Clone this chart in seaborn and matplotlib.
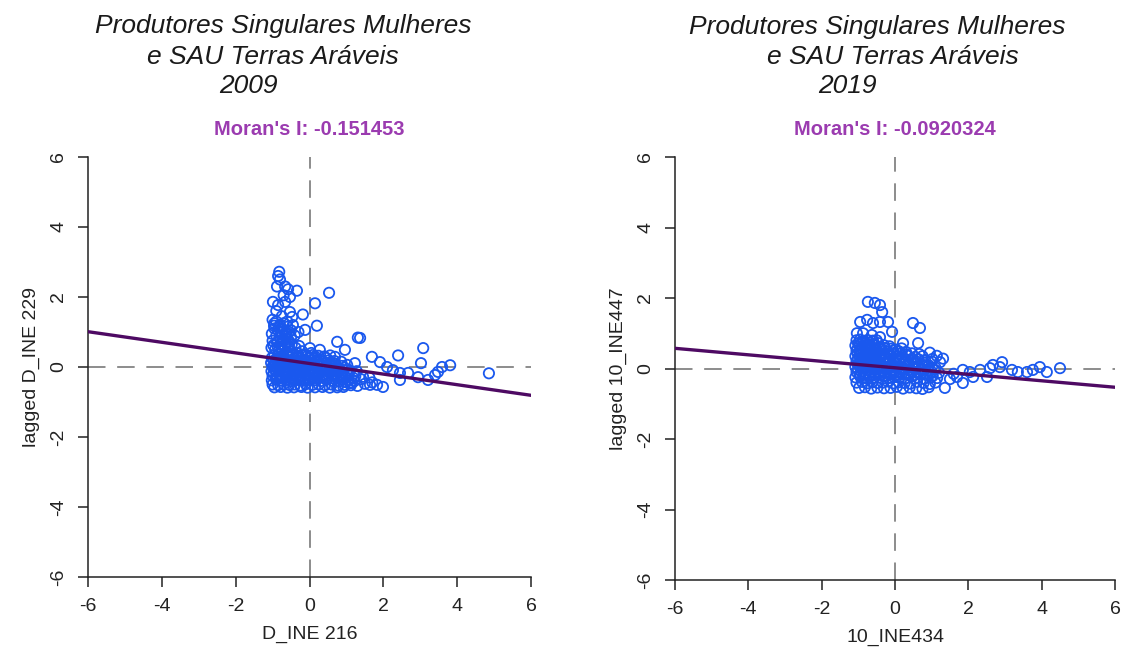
import matplotlib
matplotlib.use("Agg")
import matplotlib.pyplot as plt
import seaborn as sns
import numpy as np
import pandas as pd

# ---------------- data ----------------
# Panel 2009
x_2009 = [
    -0.82, -0.85, -0.80, -0.88, -0.66, -0.58, -0.34, 0.53,
    -0.99, -0.85, -0.66, -0.53, 0.15, -0.53, -0.47, -0.18, 0.20, -0.12, 0.75, 1.31,
    -0.70, -0.90, -0.75, -0.60, -0.45, -0.30, -0.95,
    -1.00, -0.90, -0.80, -0.70, -0.60, -0.95, -0.85, -0.75, -0.65, -0.55,
    -1.02, -0.90, -0.80, -0.70, -0.60, -0.50, -0.40,
    -1.00, -0.88, -0.78, -0.68, -0.58, -0.48, -0.38, -0.28,
    -1.03, -0.93, -0.83, -0.73, -0.63, -0.53, -0.43, -0.33, -0.20, -0.10, 0.05, 0.15,
    -1.02, -0.90, -0.78, -0.66, -0.52, -0.40, -0.25, -0.12, 0.00, 0.12, 0.30, 0.45,
    -1.04, -0.93, -0.80, -0.70, -0.57, -0.45, -0.33, -0.20, -0.05, 0.08, 0.22, 0.38, 0.55, 0.70,
    -1.00, -0.88, -0.75, -0.62, -0.50, -0.38, -0.27, -0.15, 0.02, 0.18, 0.33, 0.48, 0.62, 0.80, 0.95,
    -1.03, -0.92, -0.80, -0.68, -0.55, -0.42, -0.30, -0.17, -0.04, 0.10, 0.25, 0.40, 0.58, 0.75, 0.90, 1.05,
    -1.00, -0.87, -0.74, -0.60, -0.48, -0.35, -0.22, -0.10, 0.05, 0.20, 0.36, 0.52, 0.68, 0.85, 1.00, 1.20, 1.40,
    -1.02, -0.90, -0.77, -0.64, -0.50, -0.38, -0.25, -0.12, 0.00, 0.15, 0.30, 0.45, 0.62, 0.80, 0.98, 1.15, 1.50,
    -1.00, -0.85, -0.70, -0.55, -0.40, -0.25, -0.10, 0.08, 0.25, 0.42, 0.60, 0.78, 0.95, 1.12, 1.30,
    -0.95, -0.78, -0.60, -0.42, -0.22, -0.05, 0.15, 0.35, 0.55, 0.75, 0.92,
    3.08, 2.40, 3.02, 3.81, 3.59, 3.48, 3.40, 4.86,
    1.69, 1.91, 2.10, 2.26, 2.45, 2.67, 2.94, 3.21, 2.45, 1.99, 1.83, 1.37,
    1.23, 1.10, 1.64, 0.69, 0.96, 0.28, 0.01,
    # extra fill of the dense core
    -0.96, -0.84, -0.72, -0.62, -0.50, -0.86, -0.74, -0.64, -0.54, -0.98, -0.86, -0.76,
    -0.95, -0.82, -0.70, -0.58, -0.46, -0.34, -0.20, -0.06, 0.08, 0.24, 0.40, 0.56,
    -0.97, -0.85, -0.72, -0.60, -0.47, -0.34, -0.21, -0.08, 0.06, 0.20, 0.36, 0.52, 0.68, 0.86,
    -0.96, -0.83, -0.70, -0.57, -0.44, -0.32, -0.19, -0.05, 0.08, 0.22, 0.38, 0.54, 0.70, 0.88, 1.02,
    -0.95, -0.82, -0.68, -0.55, -0.42, -0.29, -0.16, -0.02, 0.12, 0.28, 0.44, 0.60, 0.77, 0.93, 1.10, 1.28,
    -0.97, -0.83, -0.70, -0.56, -0.43, -0.30, -0.17, -0.04, 0.10, 0.24, 0.40, 0.55, 0.72, 0.89, 1.06, 1.24, 1.45, 1.62,
    -0.92, -0.77, -0.62, -0.47, -0.32, -0.17, -0.02, 0.16, 0.33, 0.50, 0.68, 0.86, 1.04, 1.22, 1.70,
]
y_2009 = [
    2.72, 2.60, 2.50, 2.30, 2.30, 2.22, 2.18, 2.12,
    1.86, 1.77, 1.86, 2.00, 1.82, 1.57, 1.43, 1.50, 1.18, 1.06, 0.72, 0.84,
    2.05, 1.60, 1.45, 1.30, 1.20, 1.00, 1.25,
    1.35, 1.30, 1.20, 1.25, 1.15, 1.10, 1.05, 1.00, 0.95, 1.00,
    0.95, 0.90, 0.85, 0.80, 0.80, 0.85, 0.90,
    0.75, 0.70, 0.65, 0.62, 0.60, 0.65, 0.55, 0.60,
    0.55, 0.50, 0.48, 0.45, 0.42, 0.45, 0.38, 0.40, 0.45, 0.35, 0.40, 0.30,
    0.26, 0.22, 0.27, 0.24, 0.28, 0.23, 0.25, 0.21, 0.27, 0.24, 0.22, 0.26,
    0.12, 0.14, 0.10, 0.13, 0.11, 0.14, 0.12, 0.10, 0.13, 0.11, 0.12, 0.10, 0.13, 0.09,
    0.01, -0.02, 0.02, 0.00, 0.03, -0.01, 0.02, 0.00, -0.02, 0.01, 0.03, -0.01, 0.00, -0.03, -0.02,
    -0.12, -0.10, -0.13, -0.11, -0.14, -0.12, -0.10, -0.13, -0.11, -0.12, -0.14, -0.10, -0.13, -0.12, -0.15, -0.17,
    -0.25, -0.27, -0.24, -0.26, -0.23, -0.25, -0.28, -0.24, -0.26, -0.25, -0.27, -0.23, -0.26, -0.28, -0.30, -0.32, -0.35,
    -0.38, -0.36, -0.39, -0.37, -0.40, -0.38, -0.36, -0.39, -0.37, -0.38, -0.40, -0.36, -0.39, -0.41, -0.43, -0.45, -0.48,
    -0.50, -0.52, -0.49, -0.51, -0.50, -0.53, -0.49, -0.51, -0.50, -0.52, -0.50, -0.53, -0.51, -0.52, -0.54,
    -0.58, -0.57, -0.59, -0.58, -0.57, -0.59, -0.58, -0.57, -0.59, -0.58, -0.57,
    0.54, 0.33, 0.11, 0.05, 0.00, -0.14, -0.23, -0.18,
    0.29, 0.14, 0.00, -0.09, -0.17, -0.17, -0.29, -0.37, -0.37, -0.57, -0.51, 0.83,
    0.11, -0.46, -0.51, 0.29, 0.49, 0.49, 0.54,
    # extra fill of the dense core
    1.18, 1.12, 1.08, 0.98, 1.05, 0.72, 0.75, 0.70, 0.72, 0.62, 0.57, 0.52,
    0.33, 0.35, 0.31, 0.34, 0.32, 0.30, 0.33, 0.31, 0.34, 0.32, 0.30, 0.33,
    0.18, 0.20, 0.17, 0.19, 0.18, 0.16, 0.19, 0.17, 0.20, 0.18, 0.16, 0.19, 0.17, 0.15,
    0.06, 0.08, 0.05, 0.07, 0.06, 0.04, 0.07, 0.05, 0.08, 0.06, 0.04, 0.07, 0.05, 0.03, 0.06,
    -0.06, -0.04, -0.07, -0.05, -0.06, -0.08, -0.05, -0.07, -0.04, -0.06, -0.08, -0.05, -0.07, -0.09, -0.10, -0.12,
    -0.18, -0.20, -0.17, -0.19, -0.18, -0.21, -0.18, -0.20, -0.17, -0.19, -0.21, -0.18, -0.20, -0.22, -0.24, -0.26, -0.28, -0.30,
    -0.31, -0.33, -0.30, -0.32, -0.31, -0.34, -0.31, -0.33, -0.30, -0.32, -0.34, -0.36, -0.38, -0.40, -0.44,
]

# Panel 2019
x_2019 = [
    -0.74, -0.55, -0.41, -0.35, -0.95, -0.76, -0.60, -0.41, -0.19, 0.49, 0.68, -0.08,
    -1.04, -0.87, -0.63, -0.41, 0.22, 0.63, 0.95, 1.14, 1.31, 1.23,
    1.36, 1.85, 1.69, 1.85, 2.04, 2.32, 2.59, 2.86, 2.92, 2.67, 3.19, 3.35, 3.60, 3.76,
    3.95, 4.14, 4.50, 2.13, 2.51, 1.50, 1.60,
    -1.05, -0.95, -0.85, -0.75, -0.60, -0.50,
    -1.08, -0.98, -0.88, -0.78, -0.68, -0.55, -0.42, -0.30, -0.15,
    -1.05, -0.95, -0.85, -0.72, -0.60, -0.48, -0.35, -0.20, -0.05, 0.10, 0.30,
    -1.08, -0.97, -0.85, -0.73, -0.62, -0.50, -0.38, -0.25, -0.10, 0.05, 0.20, 0.35, 0.55, 0.75,
    -1.05, -0.94, -0.82, -0.70, -0.58, -0.45, -0.32, -0.18, -0.05, 0.10, 0.25, 0.42, 0.60, 0.80, 1.00,
    -1.08, -0.96, -0.84, -0.72, -0.60, -0.48, -0.35, -0.22, -0.08, 0.07, 0.22, 0.38, 0.55, 0.72, 0.90, 1.10,
    -1.05, -0.93, -0.80, -0.68, -0.55, -0.42, -0.30, -0.15, 0.00, 0.15, 0.30, 0.48, 0.65, 0.82, 1.00, 1.20,
    -1.08, -0.95, -0.83, -0.70, -0.57, -0.44, -0.30, -0.17, -0.03, 0.12, 0.28, 0.45, 0.62, 0.80, 0.98, 1.15,
    -1.05, -0.90, -0.76, -0.62, -0.48, -0.34, -0.20, -0.05, 0.10, 0.26, 0.42, 0.60, 0.78, 0.95, 1.10,
    -0.98, -0.82, -0.65, -0.48, -0.30, -0.12, 0.05, 0.22, 0.40, 0.58, 0.75, 0.92,
    # extra fill of the dense core
    -1.00, -0.90, -0.80, -0.70, -0.58, -0.46,
    -1.02, -0.91, -0.80, -0.68, -0.55, -0.42, -0.28, -0.12, 0.02, 0.18,
    -1.02, -0.90, -0.78, -0.66, -0.54, -0.42, -0.30, -0.16, -0.02, 0.14, 0.30, 0.46, 0.66,
    -1.01, -0.89, -0.77, -0.65, -0.53, -0.40, -0.27, -0.13, 0.01, 0.16, 0.31, 0.47, 0.64, 0.82, 1.02,
    -1.02, -0.90, -0.78, -0.65, -0.52, -0.39, -0.25, -0.10, 0.06, 0.22, 0.38, 0.56, 0.74, 0.92,
    -1.01, -0.88, -0.75, -0.62, -0.49, -0.36, -0.22, -0.08, 0.06, 0.22, 0.38, 0.55, 0.72, 0.90, 1.08,
    -0.97, -0.83, -0.69, -0.55, -0.41, -0.27, -0.12, 0.03, 0.18, 0.34, 0.51, 0.68, 0.86, 1.03,
]
y_2019 = [
    1.89, 1.86, 1.80, 1.60, 1.32, 1.38, 1.29, 1.32, 1.32, 1.29, 1.15, 1.04,
    1.00, 1.00, 0.95, 0.89, 0.72, 0.72, 0.45, 0.36, 0.28, 0.18,
    -0.55, -0.41, -0.24, -0.04, -0.10, -0.04, 0.01, 0.04, 0.18, 0.10, -0.04, -0.10, -0.10, -0.04,
    0.04, -0.10, 0.01, -0.24, -0.24, -0.30, -0.15,
    0.80, 0.82, 0.78, 0.81, 0.79, 0.80,
    0.65, 0.67, 0.63, 0.66, 0.64, 0.65, 0.62, 0.66, 0.63,
    0.50, 0.52, 0.48, 0.51, 0.49, 0.50, 0.53, 0.48, 0.51, 0.49, 0.47,
    0.35, 0.37, 0.33, 0.36, 0.34, 0.35, 0.38, 0.33, 0.36, 0.34, 0.32, 0.36, 0.33, 0.35,
    0.20, 0.22, 0.18, 0.21, 0.19, 0.20, 0.23, 0.18, 0.21, 0.19, 0.17, 0.22, 0.19, 0.16, 0.20,
    0.05, 0.07, 0.03, 0.06, 0.04, 0.05, 0.08, 0.03, 0.06, 0.04, 0.02, 0.07, 0.04, 0.01, 0.05, 0.03,
    -0.10, -0.08, -0.12, -0.09, -0.11, -0.10, -0.07, -0.12, -0.09, -0.11, -0.13, -0.08, -0.11, -0.14, -0.10, -0.12,
    -0.25, -0.23, -0.27, -0.24, -0.26, -0.25, -0.22, -0.27, -0.24, -0.26, -0.28, -0.23, -0.26, -0.29, -0.25, -0.27,
    -0.40, -0.38, -0.42, -0.39, -0.41, -0.40, -0.37, -0.42, -0.39, -0.41, -0.43, -0.38, -0.41, -0.44, -0.40,
    -0.55, -0.53, -0.57, -0.54, -0.56, -0.55, -0.52, -0.57, -0.54, -0.56, -0.58, -0.53,
    # extra fill of the dense core
    0.72, 0.74, 0.71, 0.73, 0.70, 0.72,
    0.57, 0.59, 0.56, 0.58, 0.57, 0.55, 0.58, 0.56, 0.54, 0.57,
    0.42, 0.44, 0.41, 0.43, 0.42, 0.40, 0.43, 0.41, 0.44, 0.42, 0.40, 0.43, 0.41,
    0.27, 0.29, 0.26, 0.28, 0.27, 0.25, 0.28, 0.26, 0.29, 0.27, 0.25, 0.28, 0.26, 0.24, 0.27,
    0.12, 0.14, 0.11, 0.13, 0.12, 0.10, 0.13, 0.11, 0.14, 0.12, 0.10, 0.13, 0.11, 0.09,
    -0.03, -0.01, -0.04, -0.02, -0.03, -0.05, -0.02, -0.04, -0.01, -0.03, -0.05, -0.02, -0.04, -0.06, -0.03,
    -0.18, -0.16, -0.19, -0.17, -0.18, -0.20, -0.17, -0.19, -0.16, -0.18, -0.20, -0.17, -0.19, -0.21,
]

# regression (Moran) lines: slope and intercept
slope_2009, intercept_2009 = -0.151453, 0.10
slope_2019, intercept_2019 = -0.0920324, 0.02

moran_labels = ["Moran's I: -0.151453", "Moran's I: -0.0920324"]
x_labels = ["D_INE 216", "10_INE434"]
y_labels = ["lagged D_INE 229", "lagged 10_INE447"]
tick_values = [-6, -4, -2, 0, 2, 4, 6]
title_lines = [
    ["Produtores Singulares Mulheres", "e SAU Terras Aráveis", "2009"],
    ["Produtores Singulares Mulheres", "e SAU Terras Aráveis", "2019"],
]

# ---------------- styling ----------------
sns.set_theme(style="white")
plt.rcParams["font.family"] = ["Liberation Sans", "DejaVu Sans"]

W, H = 1127, 650
fig = plt.figure(figsize=(W / 100, H / 100), dpi=100)

POINT_BLUE = "#1a58ee"
LINE_PURPLE = "#4e0a63"
TEXT_PURPLE = "#9b3bb0"
DASH_GREY = "#8c8c8c"
AXIS_COL = "#222222"

axes_px = [(88, 157, 443, 420), (675, 157, 440, 423)]
data = [
    (x_2009, y_2009, slope_2009, intercept_2009),
    (x_2019, y_2019, slope_2019, intercept_2019),
]

for i, ((l, t, w, h), (xs, ys, sl, ic)) in enumerate(zip(axes_px, data)):
    ax = fig.add_axes([l / W, 1 - (t + h) / H, w / W, h / H])
    df = pd.DataFrame({"x": xs, "y": ys})
    ax.axvline(0, color=DASH_GREY, lw=1.4, dashes=(9, 6), zorder=1)
    ax.axhline(0, color=DASH_GREY, lw=1.4, dashes=(9, 6), zorder=1)
    sns.scatterplot(data=df, x="x", y="y", ax=ax, s=55, facecolor="none",
                    edgecolor=POINT_BLUE, linewidth=1.3, zorder=2)
    ax.axline((0, ic), slope=sl, color=LINE_PURPLE, lw=2.4, zorder=3)

    ax.set_xlim(-6, 6)
    ax.set_ylim(-6, 6)
    ax.set_xticks(tick_values)
    ax.set_yticks(tick_values)
    ax.set_xticklabels([str(v) for v in tick_values], fontsize=14, color=AXIS_COL)
    ax.set_yticklabels([str(v) for v in tick_values], fontsize=14, color=AXIS_COL,
                       rotation=90, va="center")
    ax.tick_params(axis="both", direction="out", length=7, width=1.1,
                   color=AXIS_COL, left=True, bottom=True)
    ax.tick_params(axis="x", pad=8)
    ax.tick_params(axis="y", pad=8)
    for side in ["top", "right"]:
        ax.spines[side].set_visible(False)
    for side in ["left", "bottom"]:
        ax.spines[side].set_color(AXIS_COL)
        ax.spines[side].set_linewidth(1.1)
    ax.set_xlabel(x_labels[i], fontsize=14, color=AXIS_COL, labelpad=8)
    ax.set_ylabel(y_labels[i], fontsize=14, color=AXIS_COL, labelpad=7)
    ax.set_title(moran_labels[i], fontsize=14.5, color=TEXT_PURPLE,
                 fontweight="bold", pad=16)
    ax.patch.set_alpha(0)

# Titles (three lines each, positioned as in the reference)
title_pos = [
    [(283, 26), (273, 57), (248, 86)],
    [(877, 27), (893, 57), (847, 86)],
]
for lines, poss in zip(title_lines, title_pos):
    for txt, (px, py) in zip(lines, poss):
        fig.text(px / W, 1 - py / H, txt, ha="center", va="center",
                 fontsize=19, style="italic", color="#1a1a1a")

fig.savefig("out.png", dpi=100)
